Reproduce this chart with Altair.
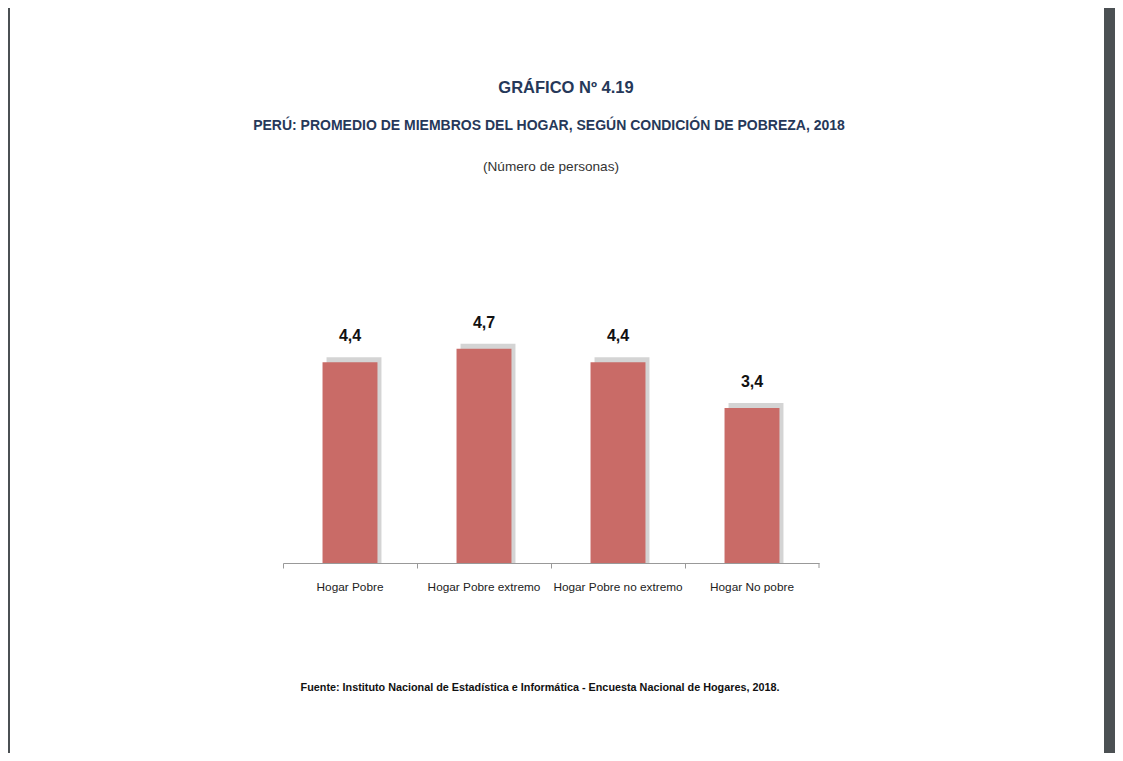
import altair as alt
import pandas as pd

categories = ["Hogar Pobre", "Hogar Pobre extremo", "Hogar Pobre no extremo", "Hogar No pobre"]
values = [4.4, 4.7, 4.4, 3.4]
labels = ["4,4", "4,7", "4,4", "3,4"]

title1 = "GRÁFICO Nº 4.19"
title2 = "PERÚ: PROMEDIO DE MIEMBROS DEL HOGAR, SEGÚN CONDICIÓN DE POBREZA, 2018"
subtitle = "(Número de personas)"
source = "Fuente: Instituto Nacional de Estadística e Informática - Encuesta Nacional de Hogares, 2018."

df = pd.DataFrame({"cat": categories, "val": values, "lab": labels})

FONT = "Liberation Sans Narrow, Arial Narrow, Liberation Sans, Arial, sans-serif"
W, H = 536, 228
PL, PT = 275, 327

x_enc = alt.X("cat:N", sort=categories, title=None,
              scale=alt.Scale(paddingInner=0, paddingOuter=0),
              axis=alt.Axis(bandPosition=0, labelAngle=0, domainColor="#999999",
                            tickColor="#999999", tickSize=5, labelFont=FONT,
                            labelFontSize=11.8, labelColor="#222222", labelPadding=13,
                            grid=False))
y_enc = alt.Y("val:Q", scale=alt.Scale(domain=[0, 5]), axis=None)

base = alt.Chart(df)

shadow = base.mark_bar(width=alt.RelativeBandSize(0.41), color="#a0a0a0", opacity=0.45,
                       xOffset=4, yOffset=-5).encode(x=x_enc, y=y_enc, y2=alt.datum(0))
bars = base.mark_bar(width=alt.RelativeBandSize(0.41), color="#C96B67").encode(x=x_enc, y=y_enc)
text = base.mark_text(baseline="bottom", dy=-18, font=FONT, fontSize=16, fontWeight="bold",
                      color="#111111").encode(x=alt.X("cat:N", sort=categories), y=y_enc, text="lab:N")

end_tick = alt.Chart(pd.DataFrame({"k": [0]})).mark_rule(color="#999999").encode(
    x=alt.value(W), y=alt.value(H), y2=alt.value(H + 5))

def label(txt, x, y, size, weight, color):
    return alt.Chart(pd.DataFrame({"t": [txt]})).mark_text(
        font=FONT, fontSize=size, fontWeight=weight, color=color, align="center", baseline="middle"
    ).encode(text="t:N", x=alt.value(x), y=alt.value(y))

t1 = label(title1, 566 - 283, 88 - 335, 16.5, "bold", "#263859")
t2 = label(title2, 549 - 283, 126 - 335, 14, "bold", "#263859")
t3 = label(subtitle, 551 - 283, 167 - 335, 13.6, "normal", "#333333")
t4 = label(source, 540 - 283, 688 - 335, 10.8, "bold", "#111111")

left_border = alt.Chart(pd.DataFrame({"k": [0]})).mark_rect(color="#4b5053").encode(
    x=alt.value(-PL), x2=alt.value(-PL + 2), y=alt.value(-PT), y2=alt.value(745 - PT))
right_border = alt.Chart(pd.DataFrame({"k": [0]})).mark_rect(color="#4b5053").encode(
    x=alt.value(1104 - 283), x2=alt.value(1107 - PL), y=alt.value(-PT), y2=alt.value(745 - PT))

chart = alt.layer(shadow, bars, text, end_tick, t1, t2, t3, t4, left_border, right_border).properties(
    width=W, height=H,
    background="white",
    padding={"left": PL, "top": PT, "right": 1107 - PL - W, "bottom": 745 - PT - H},
    autosize=alt.AutoSizeParams(type="none"),
).configure_view(strokeWidth=0, stroke="transparent")

chart.save("out.html", embed_options={"renderer": "svg", "actions": False})
